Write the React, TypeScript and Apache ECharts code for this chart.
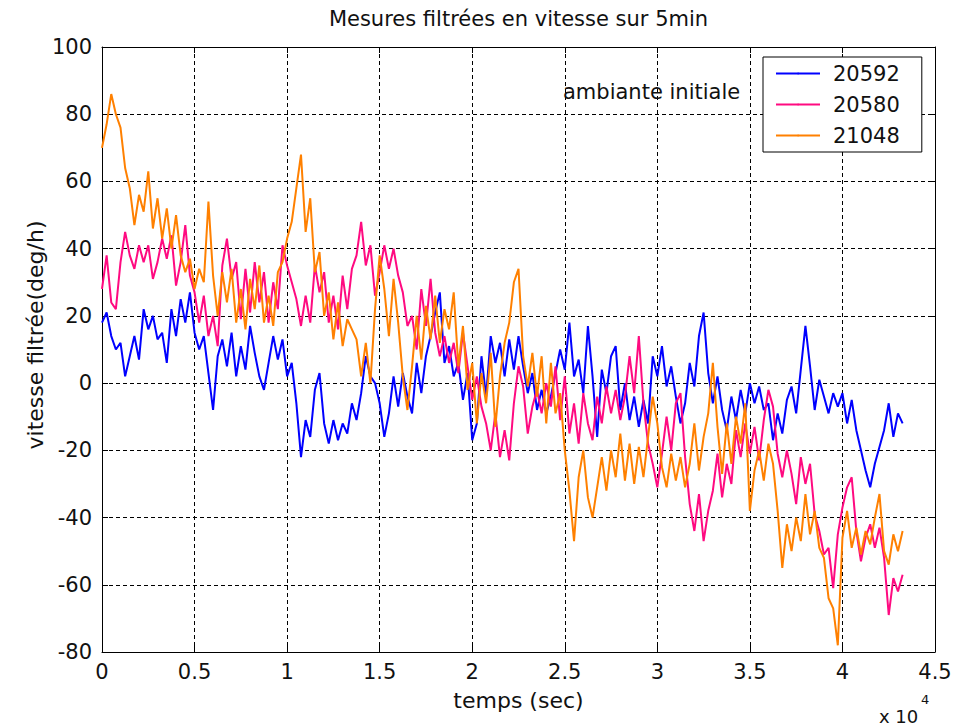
import React, { useEffect, useRef } from "react";
import * as echarts from "echarts";

// Sampling step of the stored measurements, in seconds
const SAMPLE_STEP = 250;

const SERIES_NAMES = ["20592", "20580", "21048"];
const SERIES_COLORS = ["#0000ff", "#ff0a80", "#ff8000"];

// Filtered rate (deg/h), one value every SAMPLE_STEP seconds
const gyro20592 = [
  18, 21, 14, 10, 12, 2, 8, 14,
  7, 22, 16, 20, 13, 15, 6, 22,
  14, 25, 18, 27, 15, 10, 14, 3,
  -8, 8, 13, 5, 15, 2, 11, 4,
  17, 9, 2, -2, 6, 14, 7, 13,
  2, 6, -6, -22, -11, -16, -2, 3,
  -12, -18, -11, -17, -12, -15, -6, -11,
  -3, 8, 2, 0, -6, -16, -9, 2,
  -7, 3, -4, -9, 6, -3, 8, 14,
  21, 27, 6, 11, 2, 6, -5, 3,
  -17, -12, 8, -4, 14, 6, 12, 2,
  13, 4, 14, 5, -3, 3, -8, -2,
  -9, -4, 3, 10, 4, 18, 2, 7,
  -3, 17, 2, -16, 4, -3, 8, 11,
  -8, 0, -11, -4, -13, -5, -12, 8,
  2, 11, -1, 5, -4, -12, -6, 6,
  -1, 14, 21, 3, -6, 2, -8, -14,
  -4, -11, -2, -9, 0, -6, -1, -8,
  -6, -17, -9, -15, -5, -1, -9, 4,
  17, 5, -8, 1, -4, -9, -3, -7,
  -3, -12, -5, -14, -20, -26, -31, -24,
  -19, -14, -6, -16, -9, -12,
];

const gyro20580 = [
  28, 38, 24, 22, 36, 45, 38, 34,
  41, 36, 41, 31, 36, 43, 37, 44,
  29, 36, 47, 32, 27, 18, 26, 14,
  20, 11, 35, 43, 31, 36, 19, 34,
  21, 36, 24, 33, 18, 30, 22, 41,
  35, 30, 25, 17, 26, 18, 35, 27,
  33, 18, 26, 16, 32, 22, 34, 38,
  48, 35, 41, 26, 33, 41, 34, 40,
  32, 27, 17, 20, 10, 28, 17, 31,
  15, 8, 14, 6, 12, 3, 15, 5,
  -5, 2, -7, -12, -20, -9, -22, -14,
  -23, -6, 5, -1, -15, -7, -2, -9,
  0, -7, 5, -11, 2, -15, -6, -18,
  -3, -12, -17, -4, -12, -1, -9, -2,
  -11, -4, 8, -3, 14, -6, -18, -24,
  -31, -21, -10, -20, -6, -3, -22, -36,
  -44, -33, -47, -38, -32, -21, -34, -24,
  -30, -14, -22, -12, -21, -13, -23, -11,
  -2, -7, -21, -28, -20, -27, -36, -22,
  -30, -24, -39, -44, -51, -49, -61, -45,
  -37, -31, -28, -44, -53, -46, -42, -49,
  -43, -52, -69, -58, -62, -57,
];

const gyro21048 = [
  70, 77, 86, 80, 76, 64, 58, 47,
  56, 51, 63, 46, 55, 43, 52, 40,
  50, 38, 33, 37, 28, 34, 30, 54,
  32, 20, 33, 24, 34, 18, 28, 16,
  31, 22, 35, 18, 26, 17, 33, 36,
  43, 48, 58, 68, 45, 55, 33, 39,
  20, 27, 13, 24, 11, 19, 16, 13,
  2, 12, 0, 22, 38, 28, 14, 31,
  18, 2, -8, 5, 20, 7, 23, 13,
  26, 12, 22, 16, 27, 5, 17, -2,
  6, -12, 3, -6, 9, -13, 2, 12,
  18, 30, 34, 8, -1, 9, -4, 8,
  -12, 6, -9, -3, -20, -32, -47, -28,
  -20, -34, -40, -31, -22, -32, -20, -28,
  -15, -29, -18, -30, -19, -28, -16, -4,
  -12, -25, -31, -21, -29, -22, -31, -24,
  -12, -26, -16, -9, 6, -13, -27, -12,
  -24, -10, -18, -6, -38, -26, -20, -29,
  -18, -24, -38, -55, -42, -50, -40, -47,
  -33, -45, -38, -49, -52, -64, -67, -78,
  -46, -38, -49, -43, -51, -44, -48, -40,
  -33, -50, -54, -45, -50, -44,
];

const X_TICK_LABELS = ["0", "0.5", "1", "1.5", "2", "2.5", "3", "3.5", "4", "4.5"];

const FONT = '"DejaVu Sans", "Liberation Sans", Arial, sans-serif';

function toPairs(values: number[]): [number, number][] {
  return values.map((v, i) => [i * SAMPLE_STEP, v]);
}

export default function App() {
  const ref = useRef<HTMLDivElement>(null);

  useEffect(() => {
    if (!ref.current) return;
    const chart = echarts.init(ref.current, undefined, { renderer: "svg" });

    const plotLeft = 102;
    const plotRight = 935;
    const plotTop = 47;
    const plotBottom = 652;
    const midX = (plotLeft + plotRight) / 2;

    const gridDash = { color: "#000", width: 1, type: [4, 3] as number[] };

    const allSeries = [gyro20592, gyro20580, gyro21048];

    chart.setOption({
      animation: false,
      backgroundColor: "#fff",
      grid: {
        left: plotLeft,
        right: 968 - plotRight,
        top: plotTop,
        bottom: 726 - plotBottom,
        containLabel: false,
      },
      legend: {
        orient: "vertical",
        left: 763,
        top: 57,
        padding: [6, 22, 6, 12],
        itemGap: 10,
        itemWidth: 44,
        itemHeight: 2,
        backgroundColor: "#fff",
        borderColor: "#000",
        borderWidth: 1,
        borderRadius: 0,
        data: SERIES_NAMES,
        textStyle: {
          fontFamily: FONT,
          fontSize: 21,
          color: "#111",
          lineHeight: 20,
          padding: [0, 0, 0, 8],
        },
      },
      xAxis: [
        {
          type: "value",
          min: 0,
          max: 45000,
          interval: 5000,
          axisLine: { show: true, onZero: false, lineStyle: { color: "#000", width: 1 } },
          axisTick: { show: true, inside: true, length: 6, lineStyle: { color: "#000" } },
          axisLabel: {
            margin: 9,
            fontFamily: FONT,
            fontSize: 21,
            color: "#111",
            formatter: (v: number) => X_TICK_LABELS[Math.round(v / 5000)] ?? "",
          },
          splitLine: { show: true, lineStyle: gridDash },
        },
        {
          type: "value",
          position: "top",
          min: 0,
          max: 45000,
          interval: 5000,
          axisLine: { show: true, onZero: false, lineStyle: { color: "#000", width: 1 } },
          axisTick: { show: true, inside: true, length: 6, lineStyle: { color: "#000" } },
          axisLabel: { show: false },
          splitLine: { show: false },
        },
      ],
      yAxis: [
        {
          type: "value",
          min: -80,
          max: 100,
          interval: 20,
          axisLine: { show: true, onZero: false, lineStyle: { color: "#000", width: 1 } },
          axisTick: { show: true, inside: true, length: 6, lineStyle: { color: "#000" } },
          axisLabel: {
            margin: 10,
            fontFamily: FONT,
            fontSize: 21,
            color: "#111",
          },
          splitLine: { show: true, lineStyle: gridDash },
        },
        {
          type: "value",
          position: "right",
          min: -80,
          max: 100,
          interval: 20,
          axisLine: { show: true, onZero: false, lineStyle: { color: "#000", width: 1 } },
          axisTick: { show: true, inside: true, length: 6, lineStyle: { color: "#000" } },
          axisLabel: { show: false },
          splitLine: { show: false },
        },
      ],
      series: allSeries.map((values, k) => ({
        name: SERIES_NAMES[k],
        type: "line",
        xAxisIndex: 0,
        yAxisIndex: 0,
        symbol: "none",
        data: toPairs(values),
        lineStyle: { color: SERIES_COLORS[k], width: 2 },
        itemStyle: { color: SERIES_COLORS[k] },
        z: 2 + k,
      })),
      graphic: [
        {
          type: "text",
          x: midX,
          y: 19,
          style: {
            text: "Mesures filtrées en vitesse sur 5min",
            fontFamily: FONT,
            fontSize: 21,
            fill: "#111",
            align: "center",
            verticalAlign: "middle",
          },
        },
        {
          type: "text",
          x: midX,
          y: 700,
          style: {
            text: "temps (sec)",
            fontFamily: FONT,
            fontSize: 22,
            fill: "#111",
            align: "center",
            verticalAlign: "middle",
          },
        },
        {
          type: "text",
          x: 35,
          y: 335,
          rotation: Math.PI / 2,
          style: {
            text: "vitesse filtrée(deg/h)",
            fontFamily: FONT,
            fontSize: 22,
            fill: "#111",
            align: "center",
            verticalAlign: "middle",
          },
        },
        {
          type: "text",
          x: 563,
          y: 92,
          z: 10,
          style: {
            text: "ambiante initiale",
            fontFamily: FONT,
            fontSize: 21,
            fill: "#111",
            align: "left",
            verticalAlign: "middle",
          },
        },
        {
          type: "text",
          x: 879,
          y: 716,
          style: {
            text: "x 10",
            fontFamily: FONT,
            fontSize: 18,
            fill: "#111",
            align: "left",
            verticalAlign: "middle",
          },
        },
        {
          type: "text",
          x: 921,
          y: 699,
          style: {
            text: "4",
            fontFamily: FONT,
            fontSize: 13,
            fill: "#111",
            align: "left",
            verticalAlign: "middle",
          },
        },
      ],
    });

    return () => chart.dispose();
  }, []);

  return <div ref={ref} style={{ width: 968, height: 726, position: "absolute", left: 0, top: 0 }} />;
}
